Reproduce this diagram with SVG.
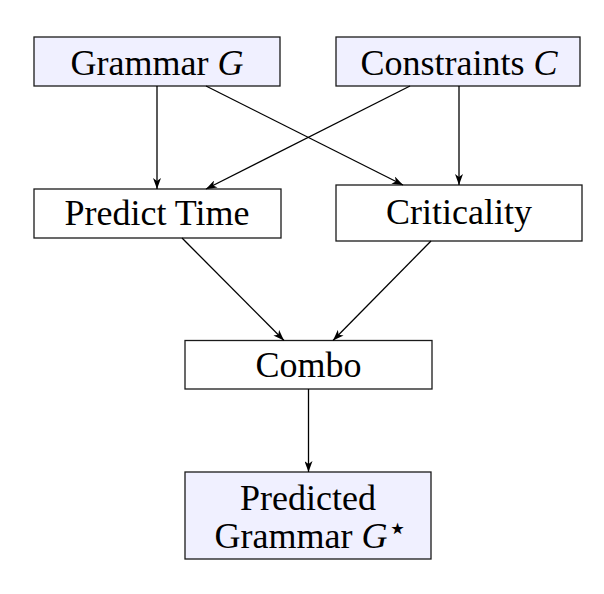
<svg xmlns="http://www.w3.org/2000/svg" width="604" height="594" viewBox="0 0 604 594">
<style>
  .box { stroke: #1a1a1a; stroke-width: 1.3; }
  .hl { fill: #f0f0ff; }
  .pl { fill: #ffffff; }
  .lbl { font-family: "Liberation Serif", "Times New Roman", serif; font-size: 36px; fill: #000; text-anchor: middle; }
  .it { font-style: italic; }
  .edge { fill: none; stroke: #000; stroke-width: 1.3; marker-end: url(#arr); }
</style>
<defs>
  <marker id="arr" viewBox="0 0 11 8" refX="11" refY="4" markerWidth="11" markerHeight="8" markerUnits="userSpaceOnUse" orient="auto">
    <path d="M0,0 L11,4 L0,8 L3,4 z" fill="#000"/>
  </marker>
</defs>
<rect width="604" height="594" fill="#ffffff"/>
<g id="grammar">
  <rect class="box hl" x="34" y="37" width="246" height="49"/>
  <text class="lbl" x="157" y="75">Grammar <tspan class="it">G</tspan></text>
</g>
<g id="constraints">
  <rect class="box hl" x="336" y="37" width="244" height="49"/>
  <text class="lbl" x="459" y="75">Constraints <tspan class="it">C</tspan></text>
</g>
<g id="predict-time">
  <rect class="box pl" x="34" y="189" width="247" height="49"/>
  <text class="lbl" x="157" y="225">Predict Time</text>
</g>
<g id="criticality">
  <rect class="box pl" x="336" y="185" width="246" height="56"/>
  <text class="lbl" x="459" y="223.5">Criticality</text>
</g>
<g id="combo">
  <rect class="box pl" x="185" y="340.5" width="247" height="48.5"/>
  <text class="lbl" x="308.5" y="377">Combo</text>
</g>
<g id="predicted-grammar">
  <rect class="box hl" x="185" y="472" width="246" height="87"/>
  <text class="lbl" x="308" y="510">Predicted</text>
  <text class="lbl" x="311" y="548">Grammar <tspan class="it">G</tspan><tspan font-family="DejaVu Sans, sans-serif" font-style="normal" font-size="32" dy="-9">⋆</tspan></text>
</g>
<g id="connectors">
  <line class="edge" x1="157" y1="86" x2="157" y2="189"/>
  <line class="edge" x1="206" y1="86" x2="403" y2="185"/>
  <line class="edge" x1="410" y1="86" x2="206" y2="189"/>
  <line class="edge" x1="459" y1="86" x2="459" y2="185"/>
  <line class="edge" x1="182" y1="238" x2="284" y2="340.5"/>
  <line class="edge" x1="431" y1="241" x2="333" y2="340.5"/>
  <line class="edge" x1="308.5" y1="389" x2="308.5" y2="472"/>
</g>
</svg>
